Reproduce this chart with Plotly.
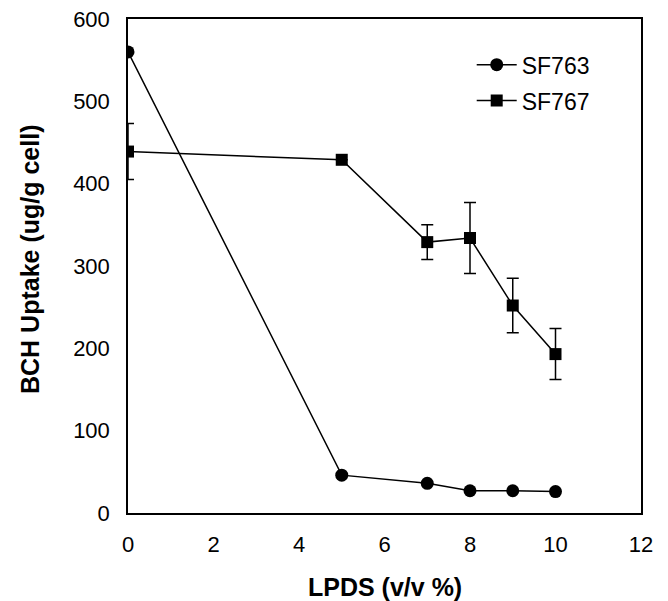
import plotly.graph_objects as go

x_sf763 = [0, 5, 7, 8, 9, 10]
y_sf763 = [560, 46, 36, 27, 27, 26]

x_sf767 = [0, 5, 7, 8, 9, 10]
y_sf767 = [439, 429, 329, 334, 252, 193]
err_sf767 = [34, 0, 21, 43, 33, 31]

x_ticks = [0, 2, 4, 6, 8, 10, 12]
y_ticks = [0, 100, 200, 300, 400, 500, 600]

fig = go.Figure()
fig.add_trace(go.Scatter(
    x=x_sf763, y=y_sf763, name="SF763", mode="lines+markers", legendgroup="a",
    line=dict(color="black", width=1.5),
    marker=dict(symbol="circle", size=13, color="black"),
))
fig.add_trace(go.Scatter(
    x=x_sf767, y=y_sf767, name="SF767", mode="lines+markers", legendgroup="b",
    line=dict(color="black", width=1.5),
    marker=dict(symbol="square", size=12, color="black"),
    error_y=dict(type="data", array=err_sf767, visible=True, color="black", thickness=1.5, width=6),
))

font_family = "Liberation Sans, Arial, sans-serif"
L, T, W, H = 120, 11, 513, 494
fig.update_layout(
    width=668, height=601,
    margin=dict(l=L, r=668 - L - W, t=T, b=601 - T - H),
    plot_bgcolor="white", paper_bgcolor="white",
    font=dict(family=font_family, size=22, color="black"),
    showlegend=True,
    legend=dict(x=0.67, y=0.951, xanchor="left", yanchor="top",
                bgcolor="rgba(0,0,0,0)", font=dict(size=23), itemwidth=40,
                tracegroupgap=3),
    xaxis=dict(range=[0, 12], tickvals=x_ticks, ticks="", showgrid=False, zeroline=False,
               showline=True, linecolor="black", linewidth=1.5, mirror=True,
               automargin=False, tickfont=dict(size=22), ticklabelstandoff=11,
               ticklabeloverflow="allow"),
    yaxis=dict(range=[0, 600], tickvals=y_ticks, ticks="", showgrid=False, zeroline=False,
               showline=True, linecolor="black", linewidth=1.5, mirror=True,
               automargin=False, tickfont=dict(size=22), ticklabelstandoff=12,
               ticklabeloverflow="allow"),
)
fig.add_annotation(text="<b>LPDS (v/v %)</b>", x=0.5, y=-(587 - 513) / H,
                   xref="paper", yref="paper", showarrow=False,
                   font=dict(size=25), xanchor="center", yanchor="middle")
fig.add_annotation(text="<b>BCH Uptake (ug/g cell)</b>", x=-(128 - 30) / W, y=(513 - 260) / H,
                   xref="paper", yref="paper", showarrow=False, textangle=-90,
                   font=dict(size=25), xanchor="center", yanchor="middle")

fig.write_html("out.html")
